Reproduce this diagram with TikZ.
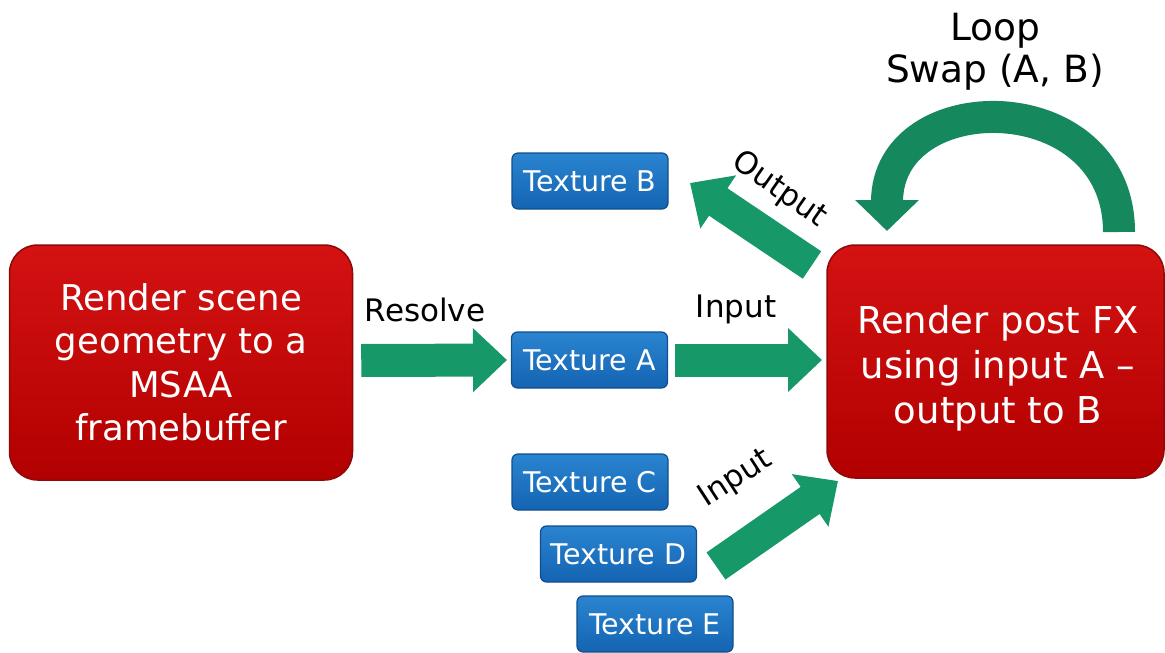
\documentclass[tikz,border=0pt]{standalone}
\usepackage{fontspec}
\setmainfont{DejaVu Sans}
\usetikzlibrary{arrows.meta}
\definecolor{grn}{RGB}{22,152,104}
\definecolor{grndk}{RGB}{22,136,94}
\definecolor{redtop}{RGB}{212,18,18}
\definecolor{redbot}{RGB}{178,0,0}
\definecolor{redbd}{RGB}{140,10,10}
\definecolor{bluetop}{RGB}{42,132,208}
\definecolor{bluebot}{RGB}{20,100,178}
\definecolor{bluebd}{RGB}{16,78,140}
\tikzset{
  redbox/.style={draw=redbd, line width=1.5pt, top color=redtop, bottom color=redbot,
    rounded corners=28pt, text=white, align=center, inner sep=0pt},
  texbox/.style={draw=bluebd, line width=1.2pt, top color=bluetop, bottom color=bluebot,
    rounded corners=6pt, text=white, minimum width=156pt, minimum height=56pt,
    inner sep=0pt, font=\fontsize{28.5}{30}\selectfont},
  fat/.style={draw=grn, line width=33pt, line cap=butt,
    -{Triangle[length=34pt,width=62pt]}},
  lbl/.style={font=\fontsize{31}{36}\selectfont, text=black, inner sep=0pt}
}
\begin{document}
\begin{tikzpicture}[x=1pt,y=-1pt]
\useasboundingbox (0,0) rectangle (1165,653);
% red boxes
\node[redbox, minimum width=343pt, minimum height=235pt,
  font=\fontsize{35.5}{43.5}\selectfont] (scene) at (181,362.5)
  {Render scene\\geometry to a\\MSAA\\framebuffer};
\node[redbox, minimum width=337pt, minimum height=233pt] (post) at (995.5,361.5) {};
\node[text=white, align=center, inner sep=0pt,
  font=\fontsize{37}{45}\selectfont] (posttxt) at (998,368)
  {Render post FX\\using input A –\\output to B};
% texture boxes
\node[texbox] (texB) at (590,181) {Texture B};
\node[texbox] (texA) at (589.5,360) {Texture A};
\node[texbox] (texC) at (590,482) {Texture C};
\node[texbox] (texD) at (618.5,554) {Texture D};
\node[texbox] (texE) at (655,624) {Texture E};
% straight arrows
\draw[fat] (scene.east) ++(8,-2) coordinate (resS) -- (texA.west -| 507,0) coordinate (resE);
\draw[fat] (texA.east) ++(7,0) coordinate (inS) -- (texA.east -| 822,0) coordinate (inE);
\coordinate (outS) at (812,265);
\coordinate (outE) at (690,183);
\draw[fat] (outS) -- (outE);
\coordinate (in2S) at (716,566);
\coordinate (in2E) at (838,481);
\draw[fat] (in2S) -- (in2E);
% loop arrow
\coordinate (loopS) at (1119,232);
\coordinate (loopE) at (887,231);
\draw[draw=grndk, line width=32pt, line cap=butt, -{Triangle[length=31pt,width=62pt]}]
  (loopS) .. controls (1119,84) and (887,84) .. (loopE);
% labels
\node[lbl] (lres) at (425,310) {Resolve};
\node[lbl] (lin) at (736,309) {Input};
\node[lbl, rotate=-35] (lout) at (779,190) {Output};
\node[lbl, rotate=33] (lin2) at (736,479) {Input};
\node[lbl, font=\fontsize{37.5}{42}\selectfont, align=center] (lloop) at (995,52) {Loop\\Swap (A, B)};
\end{tikzpicture}
\end{document}
